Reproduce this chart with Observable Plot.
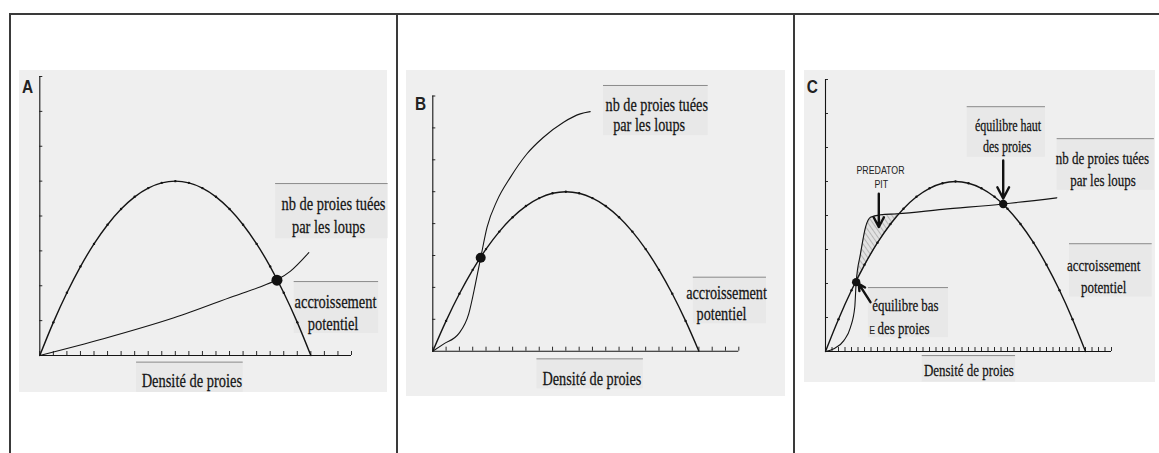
<!DOCTYPE html>
<html><head><meta charset="utf-8">
<script src="https://cdn.jsdelivr.net/npm/d3@7"></script>
<script src="https://cdn.jsdelivr.net/npm/@observablehq/plot@0.6"></script>
<style>
body{margin:0;background:#fff;}
#wrap{position:relative;width:1159px;height:453px;overflow:hidden;background:#fff;}
.b{position:absolute;background:#3a3a3a;}
</style></head><body><div id="wrap">
<div class="b" style="left:9px;top:13px;width:1150px;height:2px"></div>
<div class="b" style="left:9px;top:13px;width:2px;height:440px"></div>
<div class="b" style="left:396px;top:13px;width:2px;height:440px"></div>
<div class="b" style="left:793px;top:13px;width:2px;height:440px"></div>
</div>
<script>
// ---------- values ----------
// potential growth (parabola), same in the three panels
const parabX = [0,1,2,3,4,5,6,7,8,9,10,11,12,13,14,15,16,17,18,19,20];
const parabY = [0,0.95,1.8,2.55,3.2,3.75,4.2,4.55,4.8,4.95,5,4.95,4.8,4.55,4.2,3.75,3.2,2.55,1.8,0.95,0];
// prey killed by wolves
const killAX = [0,4.7,9.9,14.3,16.3,17.5,18.5,19.85];
const killAY = [0,0.48,1.08,1.7,1.97,2.17,2.42,2.95];
const killBX = [0,0.83,1.95,2.7,3.2,3.6,4.08,4.83,5.83,7.08,8.3,9.83,11.08,11.83];
const killBY = [0,0.23,0.55,1.17,2.1,2.93,3.89,4.72,5.45,6.19,6.7,7.18,7.44,7.51];
const killCX = [0,0.64,1.41,1.92,2.25,2.36,2.69,3.08,3.46,4.23,5.52,9,13.67,17.8];
const killCY = [0,0.08,0.32,0.71,1.3,2.04,2.87,3.66,3.95,4.02,4.05,4.18,4.34,4.52];
// equilibrium points
const eqA = [[17.5,2.16]];
const eqB = [[3.6,2.93]];
const eqC = [[2.36,2.04],[13.67,4.34]];
// axis ticks
const yTicks = [1,2,3,4,5,6,7,8];
const xTicksAB = d3.range(0,24);
const xTicksC = d3.range(0,22.01,0.5);
// texts
const labelsA = [
  {t:"nb de proies tuées", x:21.67, y:4.36},{t:"par les loups", x:21.3, y:3.68},
  {t:"accroissement", x:21.82, y:1.53},{t:"potentiel", x:21.64, y:0.91},
  {t:"Densité de proies", x:11.22, y:-0.72}];
const labelsB = [
  {t:"nb de proies tuées", x:16.83, y:7.73},{t:"par les loups", x:16.26, y:7.08},
  {t:"accroissement", x:22.08, y:1.82},{t:"potentiel", x:21.7, y:1.17},
  {t:"Densité de proies", x:11.96, y:-0.87}];
const labelsC = [
  {t:"nb de proies tuées", x:21.3, y:5.67},{t:"par les loups", x:21.35, y:5.03},
  {t:"accroissement", x:21.4, y:2.53},{t:"potentiel", x:21.4, y:1.87},
  {t:"Densité de proies", x:11.03, y:-0.56}];
const labelsC2 = [{t:"équilibre haut", x:14.04, y:6.65},{t:"des proies", x:13.97, y:6.01}];
const labelsC3 = [{t:"équilibre bas", x:6.15, y:1.35},{t:"des proies", x:6.0, y:0.67}];
const labelsCsans = [{t:"PREDATOR", x:4.23, y:5.32},{t:"PIT", x:4.29, y:4.9},{t:"E", x:3.6, y:0.6}];
// pasted label patches
const boxesA = [{x1:17.4,x2:25.7,y1:3.35,y2:4.93},{x1:18.77,x2:25.0,y1:0.63,y2:2.12},{x1:7.14,x2:15.01,y1:-1.06,y2:-0.19}];
const boxesB = [{x1:12.83,x2:20.7,y1:6.76,y2:8.33},{x1:19.58,x2:25.08,y1:0.86,y2:2.32},{x1:7.83,x2:15.83,y1:-1.18,y2:-0.24}];
const boxesC = [{x1:10.9,x2:16.92,y1:5.71,y2:7.2},{x1:17.82,x2:25.3,y1:4.74,y2:6.26},{x1:18.77,x2:25.13,y1:1.6,y2:3.17},{x1:7.44,x2:14.62,y1:-0.9,y2:-0.12},{x1:3.3,x2:9.46,y1:0.41,y2:1.88}];
const arrowsC = [{x1:4.1,y1:4.64,x2:4.1,y2:3.66},{x1:13.67,y1:5.62,x2:13.67,y2:4.5},{x1:3.46,y1:1.45,x2:2.56,y2:1.99}];

// ---------- build ----------
const zip = (X,Y) => X.map((x,i)=>({x, y:Y[i]}));
const parab = zip(parabX, parabY);
const INK = "#141414";
const serif = {fontFamily:"Liberation Serif", fill:INK, stroke:INK, strokeWidth:0.25};
const SVGNS = "http://www.w3.org/2000/svg";

// narrow the glyphs horizontally around each text's own anchor point,
// by wrapping the untouched text element in a scaling group
function squeeze(svg, selector, k){
  svg.querySelectorAll(selector).forEach(t => {
    const xa = t.x && t.x.baseVal.numberOfItems ? t.x.baseVal.getItem(0).value : 0;
    const ya = t.y && t.y.baseVal.numberOfItems ? t.y.baseVal.getItem(0).value : 0;
    let ax = xa, ay = ya;
    const c = t.transform && t.transform.baseVal.numberOfItems ? t.transform.baseVal.consolidate() : null;
    if (c) { const m = c.matrix; ax = m.a*xa + m.c*ya + m.e; ay = m.b*xa + m.d*ya + m.f; }
    const g = document.createElementNS(SVGNS, "g");
    g.setAttribute("transform", `translate(${ax},${ay}) scale(${k},1) translate(${-ax},${-ay})`);
    t.parentNode.insertBefore(g, t);
    g.appendChild(t);
  });
}

function panel(cfg){
  const marks = [
    Plot.rect(cfg.boxes, {x1:"x1", x2:"x2", y1:"y1", y2:"y2", fill:"#e8e8e8"}),
    Plot.ruleY(cfg.boxes, {y:"y2", x1:"x1", x2:"x2", stroke:"#8a8a8a", strokeWidth:1}),
  ];
  if (cfg.pit) marks.push(Plot.line(cfg.pit, {x:"x", y:"y", fill:"url(#hatchC)", stroke:"#aaa", strokeWidth:0.8}));
  marks.push(
    Plot.ruleY([0], {stroke:INK, strokeWidth:1.1}),
    Plot.ruleX([0], {stroke:INK, strokeWidth:1.1}),
    Plot.ruleX(cfg.xTicks, {x:d=>d, y1:0, y2:0, insetTop:-4, stroke:INK, strokeWidth:0.9}),
    Plot.ruleY(yTicks, {y:d=>d, x1:0, x2:0, insetRight:-3, stroke:INK, strokeWidth:0.9}),
    Plot.line(parab, {x:"x", y:"y", curve:"catmull-rom", stroke:INK, strokeWidth:1.4}),
    Plot.dot(parab.slice(1,-1), {x:"x", y:"y", r:1.2, fill:INK, stroke:null}),
    Plot.line(cfg.kill, {x:"x", y:"y", curve:cfg.killCurve, stroke:INK, strokeWidth:1.1}),
    Plot.dot(cfg.eq, {x:d=>d[0], y:d=>d[1], r:cfg.eqR, fill:"#111", stroke:null}),
    Plot.text(cfg.labels, {x:"x", y:"y", text:"t", ...serif, fontSize:cfg.fs}),
    Plot.text([cfg.letter], {x:d=>d.x, y:d=>d.y, text:d=>d.t, fontFamily:"Liberation Sans", fontWeight:"bold", fontSize:17.5, fill:"#222"})
  );
  if (cfg.extra) marks.push(...cfg.extra);
  const svg = Plot.plot({
    width: cfg.w, height: cfg.h,
    marginLeft: cfg.ml, marginRight: cfg.mr, marginTop: cfg.mt, marginBottom: cfg.mb,
    x: {domain:[0, cfg.xMax], axis:null},
    y: {domain:[0, 8], axis:null},
    style: {background:"#efefef", overflow:"visible"},
    marks
  });
  svg.style.position = "absolute";
  svg.style.left = cfg.left + "px";
  svg.style.top = cfg.top + "px";
  document.getElementById("wrap").appendChild(svg);
  if (cfg.pit) {
    const defs = d3.select(svg).insert("defs", ":first-child");
    const p = defs.append("pattern").attr("id","hatchC").attr("patternUnits","userSpaceOnUse")
      .attr("width",4).attr("height",4).attr("patternTransform","rotate(-35)");
    p.append("rect").attr("width",4).attr("height",4).attr("fill","#e2e2e2");
    p.append("line").attr("x1",0).attr("y1",0).attr("x2",0).attr("y2",4).attr("stroke","#8f8f8f").attr("stroke-width",1.1);
  }
  squeeze(svg, 'g[font-family="Liberation Serif"] text', 0.75);
  squeeze(svg, 'g[font-family="Liberation Sans"] text', 0.88);
  return svg;
}

panel({left:19, top:70, w:368, h:322, ml:20.3, mr:36, mt:6, mb:37, xMax:23, xTicks:xTicksAB,
  kill: zip(killAX, killAY), killCurve:"catmull-rom", eq: eqA, eqR:5.5, labels: labelsA, fs:19.3, boxes: boxesA,
  letter:{t:"A", x:-0.91, y:7.68}});

panel({left:406, top:70, w:379, h:326, ml:26.3, mr:46.7, mt:25.5, mb:45.3, xMax:23, xTicks:xTicksAB,
  kill: zip(killBX, killBY), killCurve:"monotone-x", eq: eqB, eqR:5, labels: labelsB, fs:19, boxes: boxesB,
  letter:{t:"B", x:-0.92, y:7.73}});

const killC = zip(killCX, killCY);
const pit = [...killC.filter(d => d.x >= 2.36 && d.x <= 5.52),
             ...parab.filter(d => d.x > 2.36 && d.x < 5.52).reverse()];
pit.push(pit[0]);

panel({left:804, top:70, w:351, h:312, ml:21, mr:44, mt:9, mb:31, xMax:22, xTicks:xTicksC,
  kill: killC, killCurve:"monotone-x", eq: eqC, eqR:4.2, labels: labelsC, fs:17.3, boxes: boxesC, pit,
  letter:{t:"C", x:-1.02, y:7.77},
  extra:[
    Plot.text(labelsC2, {x:"x", y:"y", text:"t", ...serif, fontSize:16}),
    Plot.text(labelsC3, {x:"x", y:"y", text:"t", ...serif, fontSize:17.2}),
    Plot.text(labelsCsans, {x:"x", y:"y", text:"t", fontFamily:"Liberation Sans", fontSize:10, fill:"#222"}),
    Plot.arrow(arrowsC, {x1:"x1", y1:"y1", x2:"x2", y2:"y2", stroke:"#111", strokeWidth:2.4, headLength:8, headAngle:55})
  ]});
</script></body></html>
